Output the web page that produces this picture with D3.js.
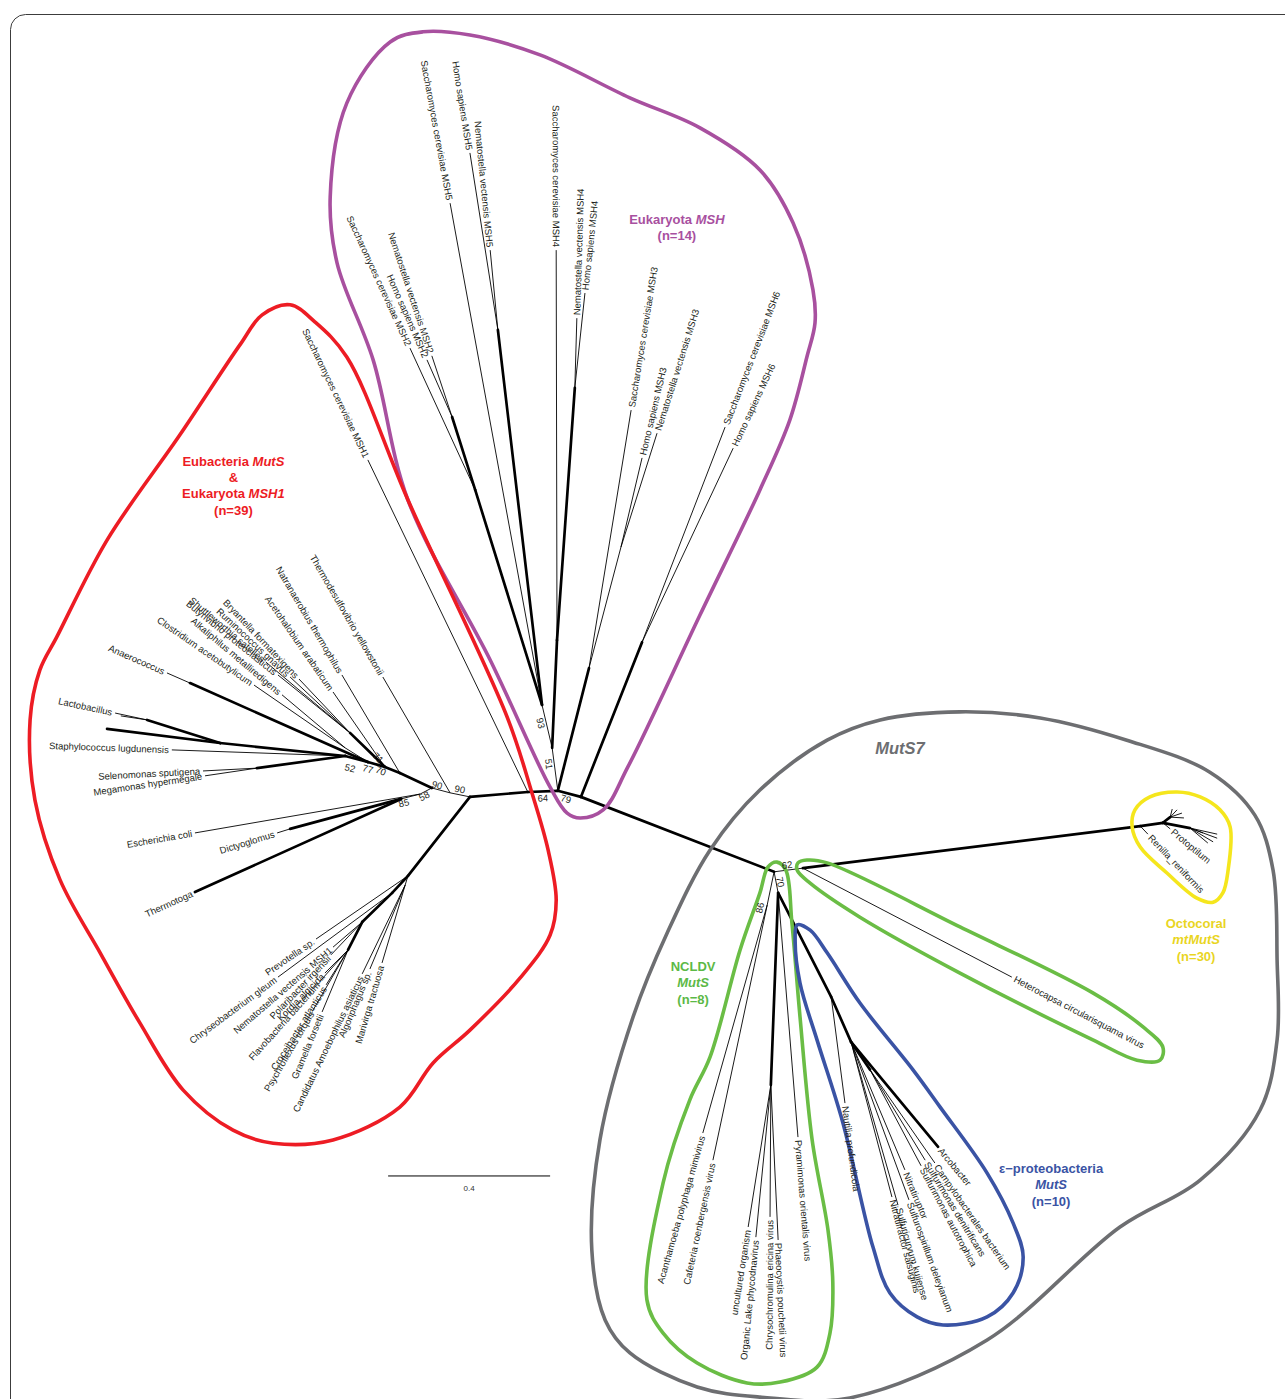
<!DOCTYPE html>
<html>
<head>
<meta charset="utf-8">
<script src="https://cdn.jsdelivr.net/npm/d3@7"></script>
<style>
html, body { margin: 0; padding: 0; background: #fff; }
svg { display: block; font-family: "Liberation Sans", Arial, Helvetica, sans-serif; }
</style>
</head>
<body>
<svg id="chart" width="1285" height="1399"></svg>
<script>
// Unrooted MutS / MSH tree. Coordinates are in substitutions per site
// (scale bar = 0.4), measured from the central node.

// id, parent, x, y, strongly supported branch (drawn thick)
const internalNodes = [
  ["A", null, 0.002, -0.002, 0],
  ["F", "A", -0.072, -0.005, 1],
  ["B", "F", -0.215, -0.017, 1],
  ["D", "B", -0.264, -0.007, 0],
  ["C", "D", -0.309, 0.005, 0],
  ["N58", "C", -0.338, -0.010, 0],
  ["N85", "N58", -0.385, -0.022, 0],
  ["Dg", "N85", -0.659, -0.096, 1],
  ["Nf", "C", -0.388, 0.042, 1],
  ["N70", "Nf", -0.425, 0.057, 1],
  ["N71", "N70", -0.449, 0.081, 1],
  ["Ru", "N71", -0.511, 0.141, 1],
  ["N77", "N70", -0.467, 0.069, 1],
  ["ClAl", "N77", -0.523, 0.104, 0],
  ["An", "N77", -0.906, 0.264, 1],
  ["N52", "N77", -0.523, 0.084, 1],
  ["Lb", "N52", -0.832, 0.116, 1],
  ["Lc", "Lb", -1.012, 0.173, 1],
  ["SelMeg", "N52", -0.741, 0.054, 1],
  ["Bac", "B", -0.368, -0.212, 1],
  ["Bx", "Bac", -0.407, -0.254, 1],
  ["By", "Bx", -0.481, -0.326, 1],
  ["Bz", "By", -0.516, -0.395, 1],
  ["Am", "Bac", -0.375, -0.235, 0],
  ["G", "A", -0.012, 0.104, 0],
  ["E", "G", -0.037, 0.210, 0],
  ["M2", "E", -0.202, 0.741, 1],
  ["M2b", "M2", -0.259, 0.921, 1],
  ["M5", "E", -0.146, 1.136, 1],
  ["H", "G", 0.000, 0.370, 1],
  ["M4", "H", 0.044, 0.993, 1],
  ["R3", "A", 0.079, 0.301, 1],
  ["M3", "R3", 0.158, 0.600, 0],
  ["P", "A", 0.059, -0.017, 1],
  ["M6", "P", 0.210, 0.365, 1],
  ["M", "P", 0.536, -0.202, 1],
  ["O", "M", 0.607, -0.193, 0],
  ["R", "O", 1.440, -0.089, 1],
  ["Oc", "R", 1.496, -0.081, 1],
  ["U", "Oc", 1.514, -0.067, 1],
  ["V", "Oc", 1.563, -0.094, 1],
  ["N86", "M", 0.519, -0.284, 0],
  ["N70b", "M", 0.546, -0.254, 0],
  ["Chr", "N70b", 0.528, -0.728, 1],
  ["Nn", "N70b", 0.677, -0.511, 1],
  ["Ep", "Nn", 0.726, -0.622, 1],
  ["Su", "Ep", 0.773, -0.691, 1]
];

// name, parent, x, y, strongly supported branch
const leaves = [
  ["Thermodesulfovibrio yellowstonii", "D", -0.430, 0.279, 0],
  ["Escherichia coli", "N58", -0.894, -0.106, 0],
  ["Dictyoglomus", "Dg", -0.691, -0.106, 0],
  ["Thermotoga", "N85", -0.894, -0.252, 1],
  ["Natranaerobius thermophilus", "Nf", -0.531, 0.284, 0],
  ["Acetohalobium arabaticum", "N70", -0.553, 0.242, 0],
  ["Bryantella formatexigens", "Ru", -0.637, 0.274, 0],
  ["Ruminococcus gnavus", "Ru", -0.659, 0.279, 0],
  ["Shuttleworthia satelles", "Ru", -0.719, 0.316, 0],
  ["Butyrivibrio proteoclasticus", "Ru", -0.689, 0.284, 0],
  ["Clostridium acetobutylicum", "ClAl", -0.748, 0.259, 0],
  ["Alkaliphilus metalliredigens", "ClAl", -0.679, 0.235, 0],
  ["Anaerococcus", "An", -0.963, 0.289, 0],
  ["Staphylococcus lugdunensis", "N52", -0.951, 0.099, 0],
  ["Lactobacillus", "Lc", -1.091, 0.190, 0],
  ["", "Lc", -1.077, 0.183, 0],
  ["", "Lb", -1.111, 0.151, 1],
  ["Selenomonas sputigena", "SelMeg", -0.874, 0.047, 0],
  ["Megamonas hypermegale", "SelMeg", -0.869, 0.035, 0],
  ["Prevotella sp.", "Bac", -0.595, -0.368, 0],
  ["Chryseobacterium gleum", "Bx", -0.689, -0.462, 0],
  ["Nematostella vectensis MSH1", "By", -0.553, -0.388, 0],
  ["Polaribacter irgensii", "By", -0.558, -0.407, 0],
  ["Flavobacteria bacterium", "Bz", -0.585, -0.472, 0],
  ["Kordia algicida", "Bz", -0.573, -0.452, 0],
  ["Croceibacter atlanticus", "Bz", -0.570, -0.481, 0],
  ["Psychroflexus torquis", "Bz", -0.602, -0.543, 0],
  ["Gramella forsetii", "Bz", -0.580, -0.548, 0],
  ["Candidatus Amoebophilus asiaticus", "Am", -0.481, -0.454, 0],
  ["Algoriphagus sp.", "Am", -0.462, -0.442, 0],
  ["Marivirga tractuosa", "Am", -0.432, -0.427, 0],
  ["Saccharomyces cerevisiae MSH1", "F", -0.467, 0.815, 0],
  ["Saccharomyces cerevisiae MSH2", "M2", -0.363, 1.091, 0],
  ["Homo sapiens MSH2", "M2b", -0.321, 1.062, 0],
  ["Nematostella vectensis MSH2", "M2b", -0.309, 1.072, 0],
  ["Saccharomyces cerevisiae MSH5", "E", -0.264, 1.449, 0],
  ["Homo sapiens MSH5", "M5", -0.215, 1.573, 0],
  ["Nematostella vectensis MSH5", "M5", -0.165, 1.333, 0],
  ["Saccharomyces cerevisiae MSH4", "H", -0.002, 1.333, 0],
  ["Nematostella vectensis MSH4", "M4", 0.049, 1.165, 0],
  ["Homo sapiens MSH4", "M4", 0.069, 1.227, 0],
  ["Saccharomyces cerevisiae MSH3", "R3", 0.183, 0.938, 0],
  ["Homo sapiens MSH3", "M3", 0.210, 0.820, 0],
  ["Nematostella vectensis MSH3", "M3", 0.247, 0.881, 0],
  ["Saccharomyces cerevisiae MSH6", "M6", 0.415, 0.896, 0],
  ["Homo sapiens MSH6", "M6", 0.435, 0.844, 0],
  ["Heterocapsa circularisquama virus", "O", 1.123, -0.462, 0],
  ["Renilla_reniformis", "R", 1.459, -0.109, 0],
  ["Protoptilum", "Oc", 1.514, -0.096, 0],
  ["", "U", 1.519, -0.047, 0],
  ["", "U", 1.531, -0.049, 0],
  ["", "U", 1.543, -0.057, 0],
  ["", "U", 1.548, -0.069, 0],
  ["", "V", 1.630, -0.109, 0],
  ["", "V", 1.630, -0.119, 0],
  ["", "V", 1.620, -0.128, 0],
  ["", "V", 1.607, -0.131, 0],
  ["", "V", 1.595, -0.106, 0],
  ["Acanthamoeba polyphaga mimivirus", "N86", 0.360, -0.847, 0],
  ["Cafeteria roenbergensis virus", "N86", 0.385, -0.914, 0],
  ["uncultured organism", "Chr", 0.472, -1.079, 0],
  ["Organic Lake phycodnavirus", "Chr", 0.491, -1.104, 0],
  ["Chrysochromulina ericina virus", "Chr", 0.526, -1.054, 0],
  ["Phaeocystis pouchetii virus", "Chr", 0.546, -1.111, 0],
  ["Pyramimonas orientalis virus", "N70b", 0.595, -0.857, 0],
  ["Nautilia profundicola", "Nn", 0.711, -0.773, 0],
  ["Arcobacter", "Ep", 0.941, -0.881, 1],
  ["Campylobacterales bacterium", "Su", 0.933, -0.921, 0],
  ["Sulfurimonas denitrificans", "Su", 0.909, -0.914, 0],
  ["Sulfurimonas autotrophica", "Su", 0.899, -0.928, 0],
  ["Nitratiruptor", "Ep", 0.859, -0.938, 0],
  ["Sulfurospirillum deleyianum", "Ep", 0.869, -1.012, 0],
  ["Sulfuricurvum kujiense", "Ep", 0.842, -1.025, 0],
  ["Nitratifractor salsuginis", "Ep", 0.827, -1.005, 0]
];

// node, bootstrap value, label x, label y
const bootstrapValues = [
  ["E", "93", -0.040, 0.165], ["G", "51", -0.020, 0.064],
  ["F", "64", -0.035, -0.020], ["P", "79", 0.022, -0.022],
  ["D", "90", -0.240, 0.002], ["C", "90", -0.296, 0.012],
  ["N58", "58", -0.328, -0.015], ["N85", "85", -0.378, -0.032],
  ["N52", "52", -0.511, 0.054], ["N77", "77", -0.467, 0.052],
  ["N70", "70", -0.435, 0.047], ["N71", "71", -0.442, 0.079],
  ["O", "62", 0.568, -0.185], ["N70b", "70", 0.551, -0.227],
  ["N86", "86", 0.501, -0.291]
];

// clade outlines
const hullEukaryota = [[0.057,-0.069],[0.114,-0.049],[0.175,0.057],[0.353,0.432],[0.501,0.741],[0.575,0.914],[0.617,1.069],[0.637,1.153],[0.632,1.235],[0.583,1.400],[0.501,1.531],[0.353,1.635],[0.180,1.709],[-0.042,1.815],[-0.215,1.864],[-0.331,1.872],[-0.412,1.847],[-0.519,1.696],[-0.560,1.464],[-0.543,1.301],[-0.454,1.062],[-0.368,0.716],[-0.165,0.321],[-0.017,0.007],[0.025,-0.057]];
const hullEubacteria = [[-0.659,1.198],[-0.598,1.156],[-0.519,1.069],[-0.368,0.716],[-0.123,0.180],[-0.062,-0.007],[-0.022,-0.148],[-0.002,-0.272],[-0.017,-0.358],[-0.091,-0.464],[-0.215,-0.593],[-0.306,-0.674],[-0.388,-0.783],[-0.553,-0.864],[-0.701,-0.872],[-0.800,-0.840],[-0.923,-0.741],[-1.030,-0.575],[-1.128,-0.402],[-1.227,-0.222],[-1.289,-0.025],[-1.301,0.173],[-1.277,0.296],[-1.235,0.378],[-1.111,0.617],[-0.931,0.877],[-0.783,1.099],[-0.728,1.173]];
const hullMutS7 = [[0.501,0],[0.378,-0.148],[0.272,-0.353],[0.188,-0.560],[0.106,-0.864],[0.086,-1.136],[0.119,-1.309],[0.180,-1.390],[0.346,-1.474],[0.501,-1.499],[0.723,-1.501],[1.062,-1.358],[1.390,-1.079],[1.588,-0.963],[1.736,-0.790],[1.778,-0.617],[1.778,-0.420],[1.768,-0.198],[1.723,-0.062],[1.612,0.044],[1.407,0.123],[1.193,0.178],[0.995,0.193],[0.798,0.173],[0.667,0.123]];
const hullNCLDV = [[0.543,-0.178],[0.565,-0.198],[0.580,-0.328],[0.600,-0.560],[0.630,-0.864],[0.669,-1.086],[0.681,-1.217],[0.674,-1.341],[0.642,-1.425],[0.551,-1.462],[0.469,-1.464],[0.346,-1.415],[0.262,-1.341],[0.222,-1.259],[0.262,-0.970],[0.328,-0.765],[0.378,-0.659],[0.452,-0.395],[0.501,-0.254],[0.521,-0.190]];
const hullHeterocapsa = [[0.595,-0.180],[0.617,-0.173],[0.667,-0.180],[0.995,-0.338],[1.323,-0.501],[1.447,-0.585],[1.496,-0.635],[1.489,-0.667],[1.432,-0.667],[1.323,-0.617],[0.995,-0.452],[0.748,-0.314],[0.625,-0.230],[0.593,-0.198]];
const hullEpsilon = [[0.593,-0.333],[0.625,-0.346],[0.667,-0.402],[0.748,-0.526],[0.879,-0.691],[0.946,-0.783],[1.062,-0.946],[1.126,-1.069],[1.151,-1.153],[1.126,-1.242],[1.062,-1.301],[0.953,-1.321],[0.889,-1.301],[0.822,-1.242],[0.780,-1.128],[0.706,-0.822],[0.642,-0.617],[0.600,-0.477],[0.588,-0.370]];
const hullOctocoral = [[1.427,-0.049],[1.464,-0.017],[1.531,-0.005],[1.588,-0.017],[1.637,-0.049],[1.662,-0.091],[1.657,-0.198],[1.644,-0.254],[1.620,-0.277],[1.580,-0.267],[1.506,-0.205],[1.440,-0.141],[1.420,-0.091]];

// clade, x, baseline y of first line, lines (*...* = italic)
const cladeLabels = [
  ["euk", 0.296, 1.398, ["Eukaryota *MSH*", "(n=14)"]],
  ["eub", -0.799, 0.800, ["Eubacteria *MutS*", "&", "Eukaryota *MSH1*", "(n=39)"]],
  ["muts7", 0.847, 0.089, ["*MutS7*"]],
  ["octo", 1.578, -0.341, ["Octocoral", "*mtMutS*", "(n=30)"]],
  ["ncldv", 0.336, -0.447, ["NCLDV", "*MutS*", "(n=8)"]],
  ["eps", 1.220, -0.946, ["\u03b5\u2212proteobacteria", "*MutS*", "(n=10)"]]
];

const scaleBar = [-0.417, -0.953, 0.4];

const W = 1285, H = 1399;
const svg = d3.select("#chart");
const x = d3.scaleLinear().domain([-1.3753, 1.7975]).range([0, W]);
const y = d3.scaleLinear().domain([1.9506, -1.5037]).range([0, H]);

const hullColor = { euk: "#a8509f", eub: "#ed1c24", muts7: "#6d6e71", octo: "#f5e61d", ncldv: "#6abd45", eps: "#3a53a4" };
const textColor = { euk: "#a8509f", eub: "#ed1c24", muts7: "#6d6e71", octo: "#e9d51f", ncldv: "#5cb946", eps: "#3a53a4" };

// outer frame
svg.append("rect")
  .attr("x", 10.5).attr("y", 14.5)
  .attr("width", W + 20).attr("height", H + 20)
  .attr("rx", 15)
  .attr("fill", "none").attr("stroke", "#3c3c3c").attr("stroke-width", 1);

// node positions
const pos = new Map();
internalNodes.forEach(d => pos.set(d[0], { x: d[2], y: d[3], parent: d[1], strong: d[4] }));

const branches = [];
internalNodes.filter(d => d[1]).forEach(d => branches.push({ p: pos.get(d[1]), c: pos.get(d[0]), strong: d[4] }));
leaves.forEach(d => branches.push({ p: pos.get(d[1]), c: { x: d[2], y: d[3] }, strong: d[4], name: d[0] }));
branches.sort((a, b) => a.strong - b.strong);

// branches
svg.append("g").selectAll("line").data(branches).join("line")
  .attr("x1", d => x(d.p.x)).attr("y1", d => y(d.p.y))
  .attr("x2", d => x(d.c.x)).attr("y2", d => y(d.c.y))
  .attr("stroke", "#000")
  .attr("stroke-width", d => d.strong ? 2.7 : 0.9)
  .attr("stroke-linecap", d => d.strong ? "round" : "butt");

// clade outlines
const outline = d3.line().x(d => x(d[0])).y(d => y(d[1])).curve(d3.curveCatmullRomClosed.alpha(0.5));
const hulls = [[hullMutS7, "muts7"], [hullEukaryota, "euk"], [hullEubacteria, "eub"], [hullNCLDV, "ncldv"],
  [hullHeterocapsa, "ncldv"], [hullEpsilon, "eps"], [hullOctocoral, "octo"]];
svg.append("g").selectAll("path").data(hulls).join("path")
  .attr("d", d => outline(d[0]))
  .attr("fill", "none")
  .attr("stroke", d => hullColor[d[1]])
  .attr("stroke-width", 3.6);

// screen angle of a branch, folded so text never reads upside down
function branchAngle(p, c) {
  const a = Math.atan2(y(c.y) - y(p.y), x(c.x) - x(p.x)) * 180 / Math.PI;
  if (a > 90) return { rot: a - 180, flip: true };
  if (a < -90) return { rot: a + 180, flip: true };
  return { rot: a, flip: false };
}

// leaf labels
svg.append("g").selectAll("text").data(branches.filter(d => d.name)).join("text")
  .attr("transform", d => {
    const a = branchAngle(d.p, d.c);
    return `translate(${x(d.c.x)},${y(d.c.y)}) rotate(${a.rot})`;
  })
  .attr("x", d => branchAngle(d.p, d.c).flip ? -3 : 3)
  .attr("dy", "0.35em")
  .attr("text-anchor", d => branchAngle(d.p, d.c).flip ? "end" : "start")
  .attr("font-size", 9.5)
  .attr("fill", "#231f20")
  .text(d => d.name);

// bootstrap support
svg.append("g").selectAll("text").data(bootstrapValues).join("text")
  .attr("transform", d => {
    const n = pos.get(d[0]);
    const a = branchAngle(pos.get(n.parent), n);
    return `translate(${x(d[2])},${y(d[3])}) rotate(${a.rot})`;
  })
  .attr("dy", "0.35em")
  .attr("text-anchor", "middle")
  .attr("font-size", 9.5)
  .attr("fill", "#231f20")
  .text(d => d[1]);

// clade names
cladeLabels.forEach(([key, lx, ly, lines]) => {
  const t = svg.append("text")
    .attr("x", x(lx)).attr("y", y(ly))
    .attr("text-anchor", "middle")
    .attr("font-weight", "bold")
    .attr("font-size", key === "muts7" ? 16.5 : 13)
    .attr("fill", textColor[key]);
  lines.forEach((ln, i) => {
    const lt = t.append("tspan").attr("x", x(lx)).attr("dy", i ? "1.25em" : 0);
    ln.split("*").forEach((seg, j) => {
      if (seg) lt.append("tspan").attr("font-style", j % 2 ? "italic" : null).text(seg);
    });
  });
});

// scale bar
const sb = svg.append("g");
sb.append("line")
  .attr("x1", x(scaleBar[0])).attr("x2", x(scaleBar[0] + scaleBar[2]))
  .attr("y1", y(scaleBar[1])).attr("y2", y(scaleBar[1]))
  .attr("stroke", "#000").attr("stroke-width", 1);
sb.append("text")
  .attr("x", x(scaleBar[0] + scaleBar[2] / 2)).attr("y", y(scaleBar[1]) + 15)
  .attr("text-anchor", "middle").attr("font-size", 8).attr("fill", "#333")
  .text(scaleBar[2]);
</script>
</body>
</html>
